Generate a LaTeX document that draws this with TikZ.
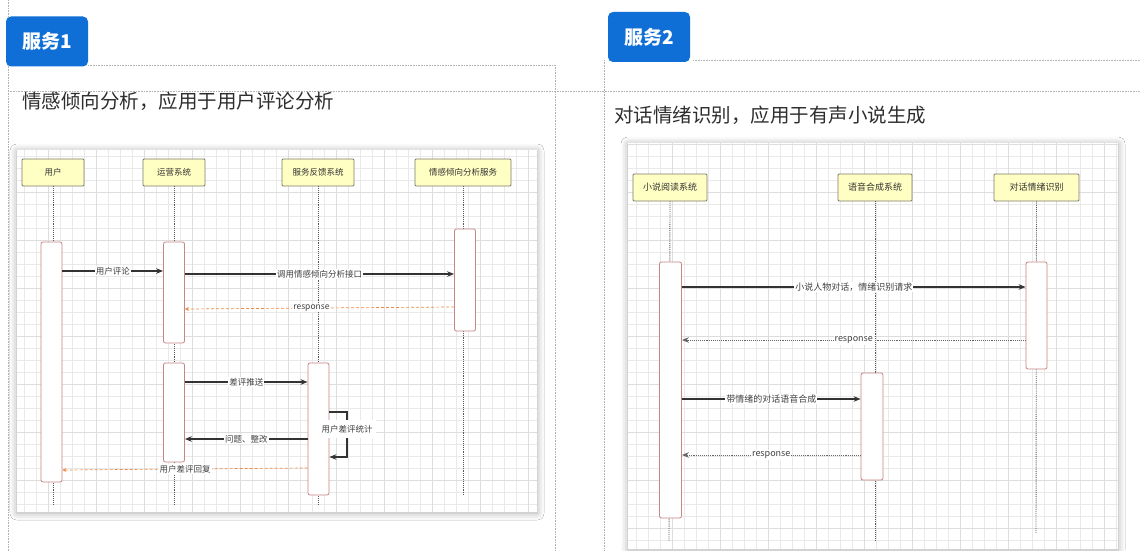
\documentclass[tikz,border=0pt]{standalone}
\usepackage{fontspec}
\setmainfont{Noto Sans CJK SC}
\usetikzlibrary{shadows.blur, arrows.meta}
\definecolor{badgeblue}{HTML}{0F6FD6}
\definecolor{actfill}{HTML}{FFFFC4}
\definecolor{actdraw}{HTML}{7A7A6A}
\definecolor{actred}{HTML}{C98585}
\definecolor{retorange}{HTML}{EE8A45}
\definecolor{gridc}{HTML}{E9E9E9}
\definecolor{gridmaj}{HTML}{DDDDDD}
\definecolor{titlec}{HTML}{2E2E2E}
\definecolor{linec}{HTML}{333333}
\begin{document}
\begin{tikzpicture}[x=1pt,y=-1pt,
  frameline/.style={draw=black!30, densely dotted, line width=0.6pt},
  badge/.style={fill=badgeblue, rounded corners=5pt, text=white, font=\bfseries\fontsize{19}{20}\selectfont, minimum width=82pt, minimum height=50pt, inner sep=0pt},
  titletext/.style={text=titlec, font=\fontsize{19.5}{20}\selectfont, anchor=west, inner sep=0pt},
  panel/.style={fill=white, draw=none, blur shadow={shadow xshift=0pt, shadow yshift=-1pt, shadow blur radius=7pt, shadow opacity=35}},
  actor/.style={draw=actdraw, fill=actfill, line width=0.8pt, rounded corners=1pt, minimum height=27pt, inner sep=0pt, text=black!80, font=\fontsize{8.5}{9}\selectfont},
  actbox/.style={draw=actred, fill=white, line width=0.8pt, rounded corners=2pt, inner sep=0pt, minimum width=21pt},
  life/.style={draw=black!65, densely dotted, line width=0.9pt},
  msg/.style={draw=linec, line width=1.1pt, -{Stealth[length=7pt,width=5.5pt]}},
  retor/.style={draw=retorange, densely dashed, line width=0.7pt, -{Stealth[length=4pt,width=4pt]}},
  retgr/.style={draw=black!60, densely dotted, line width=0.9pt, -{Stealth[length=7pt,width=5.5pt]}},
  lbl/.style={fill=white, inner sep=1pt, text=black!75, font=\fontsize{8.5}{9}\selectfont}
]
\useasboundingbox (0,0) rectangle (1140,551);
\fill[white] (0,0) rectangle (1140,551);

% ---------- frames ----------
\draw[frameline] (8,0) -- (8,551);
\draw[frameline] (88,65) -- (555,65) -- (555,551);
\draw[frameline] (8,91) -- (1140,91);
\draw[frameline] (693,60) -- (1140,60);
\draw[frameline] (604,60) -- (604,551);

\node[badge] (b1) at (47,41.5) {服务1};
\node[badge] (b2) at (649,37) {服务2};

\node[titletext] (t1) at (22,101) {情感倾向分析，应用于用户评论分析};
\node[titletext] (t2) at (614,115) {对话情绪识别，应用于有声小说生成};

% ---------- panels ----------
\path[panel] (17,150) rectangle (537,512);
\path[panel] (628,143) rectangle (1118,549);
\begin{scope}
  \clip (17,150) rectangle (537,512);
  \draw[gridc, line width=0.4pt, step=12pt] (17,150) grid (537,512);
  \draw[gridmaj, line width=0.5pt, step=48pt] (17,150) grid (537,512);
\end{scope}
\begin{scope}
  \clip (628,143) rectangle (1118,549);
  \draw[gridc, line width=0.4pt, step=12pt] (628,143) grid (1118,549);
  \draw[gridmaj, line width=0.5pt, step=48pt] (628,143) grid (1118,549);
\end{scope}

% ---------- service 1 ----------
\node[actor, minimum width=62pt] (p1) at (53,172.5) {用户};
\node[actor, minimum width=62pt] (p2) at (174,172.5) {运营系统};
\node[actor, minimum width=72pt] (p3) at (318,172.5) {服务反馈系统};
\node[actor, minimum width=96pt] (p4) at (463,172.5) {情感倾向分析服务};

\coordinate (e1) at (53,504);
\coordinate (e2) at (174,504);
\coordinate (e3) at (318,504);
\coordinate (e4) at (463,496);

\draw[life] (p1.south) -- (e1);
\draw[life] (p2.south) -- (e2);
\draw[life] (p3.south) -- (e3);
\draw[life] (p4.south) -- (e4);

\node[actbox, minimum height=240pt] (a1) at (51.5,362) {};
\node[actbox, minimum height=101pt] (a2) at (174,292.5) {};
\node[actbox, minimum height=99pt] (a3) at (174,412.5) {};
\node[actbox, minimum height=102pt] (a4) at (465,280) {};
\node[actbox, minimum height=132pt] (a5) at (318.5,429) {};

\draw[msg] (a1.east |- 0,271) -- node[lbl] {用户评论} (a2.west |- 0,271);
\draw[msg] (a2.east |- 0,274) -- node[lbl] {调用情感倾向分析接口} (a4.west |- 0,274);
\draw[retor] (a4.west |- 0,307) -- node[lbl, pos=0.53] {response} (a2.east |- 0,309);
\draw[msg] (a3.east |- 0,382) -- node[lbl] {差评推送} (a5.west |- 0,382);
\coordinate (s1) at (347,412);
\coordinate (s2) at (347,457);
\draw[msg] (a5.east |- s1) -- (s1) -- (s2) -- (a5.east |- s2);
\node[lbl, inner xsep=3pt, inner ysep=5pt] (sl) at (347,429) {用户差评统计};
\draw[msg] (a5.west |- 0,439) -- node[lbl] {问题、整改} (a3.east |- 0,439);
\draw[retor] (a5.west |- 0,468) -- node[lbl, pos=0.5] {用户差评回复} (a1.east |- 0,470);

% ---------- service 2 ----------
\node[actor, minimum width=74pt, font=\fontsize{9}{9}\selectfont] (q1) at (670,187.5) {小说阅读系统};
\node[actor, minimum width=74pt, font=\fontsize{9}{9}\selectfont] (q2) at (875,187.5) {语音合成系统};
\node[actor, minimum width=85pt, font=\fontsize{9}{9}\selectfont] (q3) at (1036.5,187.5) {对话情绪识别};

\coordinate (f1) at (669,541);
\coordinate (f2) at (875,541);
\coordinate (f3) at (1036,533);

\draw[life] (q1.south) -- (f1);
\draw[life] (q2.south) -- (f2);
\draw[life] (q3.south) -- (f3);

\node[actbox, minimum width=22pt, minimum height=256pt] (c1) at (670.5,390) {};
\node[actbox, minimum height=107pt] (c3) at (1036.5,315.5) {};
\node[actbox, minimum width=22pt, minimum height=107pt] (c2) at (872,426.5) {};

\draw[msg] (c1.east |- 0,287) -- node[lbl, font=\fontsize{9}{9}\selectfont] {小说人物对话，情绪识别请求} (c3.west |- 0,287);
\draw[retgr] (c3.west |- 0,340) -- node[lbl, font=\fontsize{9}{9}\selectfont] {response} (c1.east |- 0,340);
\draw[msg] (c1.east |- 0,399) -- node[lbl, font=\fontsize{9}{9}\selectfont] {带情绪的对话语音合成} (c2.west |- 0,399);
\draw[retgr] (c2.west |- 0,455) -- node[lbl, font=\fontsize{9}{9}\selectfont] {response} (c1.east |- 0,455);
\end{tikzpicture}
\end{document}
